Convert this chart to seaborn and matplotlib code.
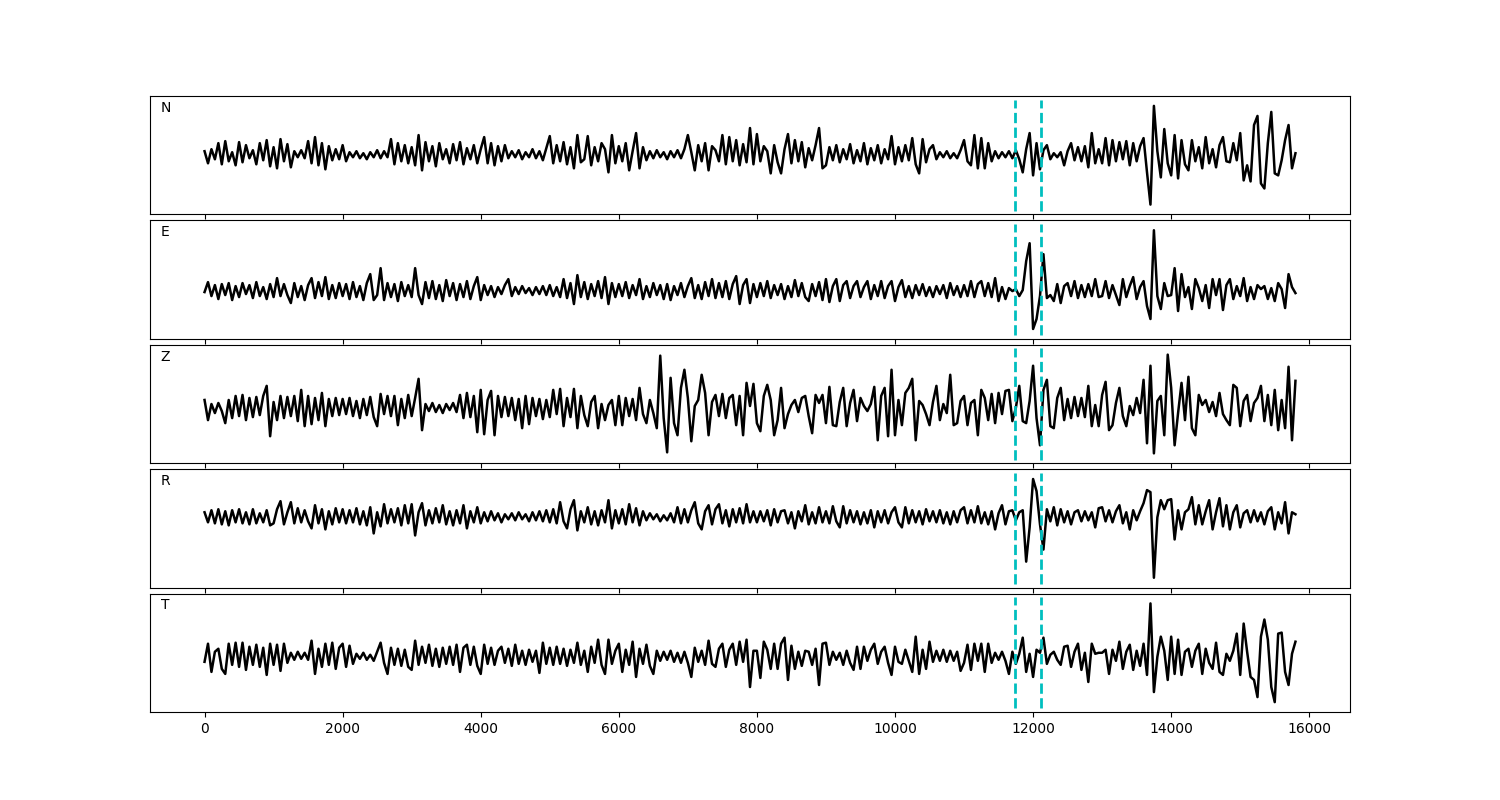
import matplotlib
matplotlib.use('Agg')
import matplotlib.pyplot as plt
import numpy as np
import seaborn as sns

# one value every 50 samples, 0 .. 15800
step = 50
components = ['N', 'E', 'Z', 'R', 'T']
picks = [11740, 12120]

trace_n = [
    4, -8, 6, -4, 12, -9, 14, -6, 3, -10, 13, -7, 10, -3, 5, -9, 12, -5, 15, -11,
    8, -13, 16, -6, 11, -12, 4, -2, 5, -3, 14, -8, 18, -10, 12, -14, 9, -5, 6, -4,
    10, -6, 3, -2, 4, -3, 2, -4, 3, -2, 5, -3, 4, -2, 16, -9, 12, -6, 10, -8,
    8, -10, 20, -15, 13, -6, 9, -11, 12, -4, 6, -8, 11, -5, 13, -9, 7, -4, 10, -8,
    6, 18, -8, 12, -10, 9, -6, 10, -3, 4, -2, 5, -4, 3, -2, 6, -3, 4, -5, 7,
    19, -8, 10, -6, 13, -9, 8, -13, 20, -7, -4, 19, -10, 8, -6, 12, 6, -17, 20, -8,
    9, -6, 12, -15, 4, 22, -13, 8, -5, 4, -3, 5, -2, 3, -4, 4, -2, 5, -3, 6,
    20, 3, -15, 10, -6, 12, -15, 9, 5, -6, 20, -9, 18, -6, 15, -10, 11, -7, 27, -9,
    21, -6, 9, 4, -18, 10, -7, -18, 6, 21, -8, 15, -6, 13, -12, 7, -5, 10, 27, -13,
    -10, 8, -5, 10, -7, 6, -4, 11, -8, 5, -6, 12, -9, 7, -5, 10, -8, 6, -4, 19,
    -9, 8, -6, 10, -5, 17, -9, -18, 16, -7, 6, 10, -4, 3, -2, 4, -3, 2, -3, 5,
    15, -6, -10, 20, -13, 17, -13, 12, -6, 4, -3, 3, -2, 4, -3, 5, -4, -17, 6, 22,
    -20, 12, -14, 5, 10, -4, 2, -2, 3, -10, 4, 12, -5, 8, -6, 9, -12, 22, -8, 6,
    -8, 17, -10, 15, -6, 13, -4, 14, -10, 12, -6, 9, 17, -17, -49, 49, 4, -22, 26, -8,
    -20, 20, -23, 15, -9, -15, 15, -6, 8, -13, 18, -8, 6, -12, 10, 18, -6, -7, 12, -5,
    22, -25, -10, -26, 30, 39, -28, -33, 12, 43, -18, -20, -5, 15, 30, -13, 2,
]

trace_e = [
    -1, 9, -5, 6, -8, 7, -4, 8, -9, 5, -6, 8, -3, 6, -7, 9, -5, 4, -8, 7,
    -6, 13, -5, 7, -4, -12, 8, -6, 5, -9, 6, 13, -7, 9, -5, 14, -8, 6, -7, 8,
    -5, 7, -8, 9, -6, 5, -9, 8, 17, -9, -4, 23, -9, 8, -6, 7, -10, 9, -5, 6,
    -6, 23, -4, -13, 9, -7, 10, -8, 6, -10, 11, -5, 8, -9, 7, -6, 10, -8, 5, 14,
    -9, 6, -4, 5, -6, 4, -3, 6, 12, -5, 4, -3, 5, -2, 3, -4, 4, -3, 5, -4,
    6, -5, 4, -6, 12, -7, 8, -13, 16, -6, 9, -8, 7, -5, 10, -7, 14, -13, 8, -6,
    7, -5, 9, -7, 6, -4, 12, -8, 5, -6, 8, -4, 6, -8, 7, -9, 5, -4, 8, -6,
    5, 13, -7, 6, -8, 9, -5, 12, -7, 8, -6, 10, -8, 7, 15, -13, 6, 12, -12, 7,
    -6, 8, -5, 10, -7, 6, -4, 7, -8, 5, -6, 11, -5, 8, -6, -10, 7, -5, 9, -9,
    12, -11, 5, 12, -10, 6, 10, -7, 5, 10, -6, 4, 10, -8, 6, -5, 10, -7, 5, 10,
    -10, 4, 11, -6, 5, -7, 6, -4, 7, -5, 4, -6, 5, -3, 6, -7, 8, -4, 5, -6,
    6, -5, 10, -6, 7, 10, -5, 8, -6, 13, -10, 4, -8, 3, 0, 2, -5, 1, 30, 48,
    -38, -28, -5, 37, -7, -4, -10, 7, -12, 5, 8, -5, 10, -7, 6, -6, 7, -5, 12, -6,
    -5, 10, -7, 6, -4, -14, 12, -6, 5, 14, -8, 4, 10, -15, -28, 61, -5, -18, 8, -5,
    -4, 23, -20, 17, -6, 4, -18, 12, 3, -10, 6, -17, 12, -4, 12, -19, 6, 12, -8, 5,
    -5, 13, -10, 4, -8, 6, 2, 5, -8, 3, -10, 8, 2, -17, 17, 4, -2,
]

trace_z = [
    8, -12, 4, -5, 5, -3, -15, 8, -10, 12, -8, 13, -12, 10, -9, 11, -7, 12, 22, -28,
    6, -12, 12, -10, 11, -8, 12, -13, 18, -18, 12, -16, 10, -12, 15, -18, 9, -8, 10, -7,
    9, -6, 10, -8, 7, -10, 9, -7, 11, -9, -18, 14, -6, 12, -8, 12, -17, 9, -10, 13,
    -8, 10, 29, -22, 4, -3, 5, -4, 3, -5, 4, -2, 5, -4, 13, -10, 15, -9, 12, -24,
    18, -26, 8, 17, -27, 12, -9, 11, -8, 10, -12, 9, -20, 12, -16, 10, -8, 9, -11, 8,
    -9, 18, -6, 19, -18, 10, -9, 19, -20, 12, -7, -18, 6, 12, -20, 4, -12, 3, 8, -17,
    12, -17, 10, -8, 9, -12, 20, -6, -15, 8, -5, -20, 52, -10, -44, 30, -15, -27, 20, 38,
    10, -33, 2, 8, 33, 15, -27, 6, 13, -8, 14, -10, 10, 13, -17, 12, -27, 25, 2, 24,
    -15, -23, 12, 23, 8, -27, -12, 20, -20, -6, 3, 8, -4, 10, 12, -8, -25, 13, 5, 13,
    -15, 21, -17, -18, 6, 20, -18, 5, 18, -13, 10, 2, -3, 4, 21, -32, 12, 20, -28, 38,
    -27, 8, -17, 15, 20, 29, -32, 7, 3, -6, -17, 6, 22, -12, 4, -5, 33, -17, -15, 7,
    12, -17, 5, 8, -27, 18, 10, -12, 14, -15, 15, -6, 17, 18, -13, 0, 22, -13, -15, 7,
    42, -10, -37, 18, 28, -18, -20, 10, 20, -12, 9, -10, 11, -8, 10, -9, 22, -18, 3, -18,
    13, 26, -22, -17, 5, 20, -8, -18, 2, -7, 10, -5, 28, -35, 42, -45, 7, 12, -27, 53,
    20, -37, -5, 25, -12, 31, -20, -27, 13, 3, 8, -4, 6, -8, 15, -6, -12, -17, 23, 20,
    -18, 7, 13, -13, 5, 10, 22, -13, 13, -17, 18, -22, 8, -20, 41, -32, 27,
]

trace_r = [
    5, -5, 7, -6, 8, -7, 6, -8, 7, -5, 8, -6, 5, -7, 8, -6, 4, -5, 7, -8,
    -6, 8, 16, -7, 5, 15, -6, 9, -5, 7, -4, -11, 12, -6, 8, -12, 6, -7, 9, -5,
    8, -6, 7, -5, 9, -7, 6, -8, 10, -16, 5, -9, 13, -6, 8, -5, 9, -8, 12, -6,
    13, -18, 5, 14, -8, 7, -6, 9, -5, 12, -7, 6, -8, 7, -6, 12, -11, 6, -5, 10,
    -6, 5, -4, 6, -3, 4, -5, 3, -2, 4, -3, 5, -2, 3, -4, 5, -3, 6, -4, 7,
    -5, 8, -6, 15, -4, -11, 8, 17, -13, 6, -5, 10, -7, 6, -8, 7, -5, 17, -11, 7,
    -6, 8, -7, 13, -5, 9, -8, 6, -3, 4, -2, 3, -4, 2, -3, 4, -5, 10, -6, 8,
    -5, 7, 15, -6, -12, 6, 12, -7, 8, 13, -6, 7, -9, 8, -5, 9, -6, 13, -5, 6,
    -5, 6, -4, 7, -8, 8, -5, 6, 7, -6, 5, -11, 6, -4, 12, -7, 5, -6, 10, -5,
    6, -6, 11, -4, -10, 11, -6, 7, -5, 6, -7, 5, -6, 7, -10, 6, -5, 7, -6, 5,
    10, -5, -10, 10, -6, 7, -5, 6, -7, 8, -4, 6, -5, 7, -6, 5, -7, 6, -5, 7,
    10, -6, 7, -5, 11, -6, 5, -7, 6, -12, 4, 12, -7, 6, 7, -3, 5, 7, -44, -10,
    38, 26, -7, -32, 8, -4, 10, -8, 8, -5, 6, -7, 5, 7, -4, 6, -3, 5, -10, 9,
    10, -4, 7, -5, 6, 12, -6, 5, -12, 7, -3, 6, 14, 27, 25, -60, 0, 17, 8, 17,
    18, -22, 7, -12, 5, 8, 20, -7, 12, -7, 6, 17, -12, 5, 19, -9, 12, -12, 5, 12,
    -10, 4, 7, -5, 7, -4, 5, -7, 6, 10, -12, 5, -6, 15, -16, 5, 3,
]

trace_t = [
    -5, 13, -15, 5, 8, -12, -17, 13, -8, 14, -10, 14, -13, 10, -8, 12, -10, 9, -18, 13,
    -8, 12, -14, 13, -6, 4, -3, 5, -2, 4, -3, 16, -17, 8, -10, 13, -8, 14, -12, 9,
    13, -10, 11, -7, 3, -2, 4, -3, 2, -4, 5, 14, -6, -17, 9, -8, 8, -9, 7, -10,
    -13, 16, -8, 10, -6, 12, -9, 8, -10, 9, -7, 10, -8, 12, -15, 9, 12, -8, 10, -9,
    -17, 12, -7, 9, -8, 6, 10, -6, 8, -9, 12, -7, 6, -8, 7, -5, 6, -16, 14, -7,
    9, -8, 10, -7, 8, -9, 7, -6, 14, -8, 6, -15, 10, -6, 17, -8, -17, 17, -7, 6,
    13, -15, 7, -8, 15, -20, 8, -7, 12, -9, -17, 6, -4, 5, -3, 6, -5, 4, -6, 5,
    -6, -20, 9, -5, 6, -8, 16, -7, -10, 8, 13, -10, 7, 13, -8, 15, -5, 17, -30, 6,
    6, -21, 15, 7, -12, 13, -12, 13, 19, -23, 11, -12, 5, -9, 6, 5, -8, 8, -28, 13,
    14, -8, 5, -3, 4, -8, 6, -6, -13, 10, -12, 10, -4, 7, 13, -7, 5, 10, -6, -18,
    10, -5, -7, 7, -4, -15, 20, -17, 7, -12, 15, -5, 6, -4, 7, -5, 6, -4, 5, -14,
    -6, 12, -13, 13, -4, 13, -15, 13, -6, 4, -3, 5, -4, -17, 5, -7, 3, 19, -15, 3,
    -20, 7, 4, 19, -7, 2, 5, -3, -8, 10, 11, -10, 5, 13, -13, 4, -25, 13, 3, 4,
    4, 7, -17, 7, -4, 15, -12, 5, 12, -13, 6, -9, 13, -18, 53, -35, 0, 20, 6, -23,
    20, -17, 17, -18, 5, 8, -10, 6, 13, -17, 8, -6, -12, 14, -15, -18, 3, -4, 6, 23,
    -18, 33, 5, -20, -23, -40, 20, 37, 17, -30, -45, 23, 24, -15, -28, 3, 15,
]

traces = [trace_n, trace_e, trace_z, trace_r, trace_t]

fig, axes = plt.subplots(5, 1, sharex=True, figsize=(15, 8))
plt.subplots_adjust(left=0.1, right=0.9, top=0.88, bottom=0.11, hspace=0.05)

for ax, name, trace in zip(axes, components, traces):
    samples = np.arange(len(trace)) * step
    sns.lineplot(x=samples, y=trace, ax=ax, color='k', linewidth=1.8)
    for p in picks:
        ax.axvline(p, ymin=0.03, ymax=0.97, color='c', linestyle='--', linewidth=2)
    ax.margins(x=0.05, y=0.1)
    ax.set_yticks([])
    ax.text(0.009, 0.9, name, transform=ax.transAxes, va='center', ha='left')

fig.savefig('out.png', dpi=100)
